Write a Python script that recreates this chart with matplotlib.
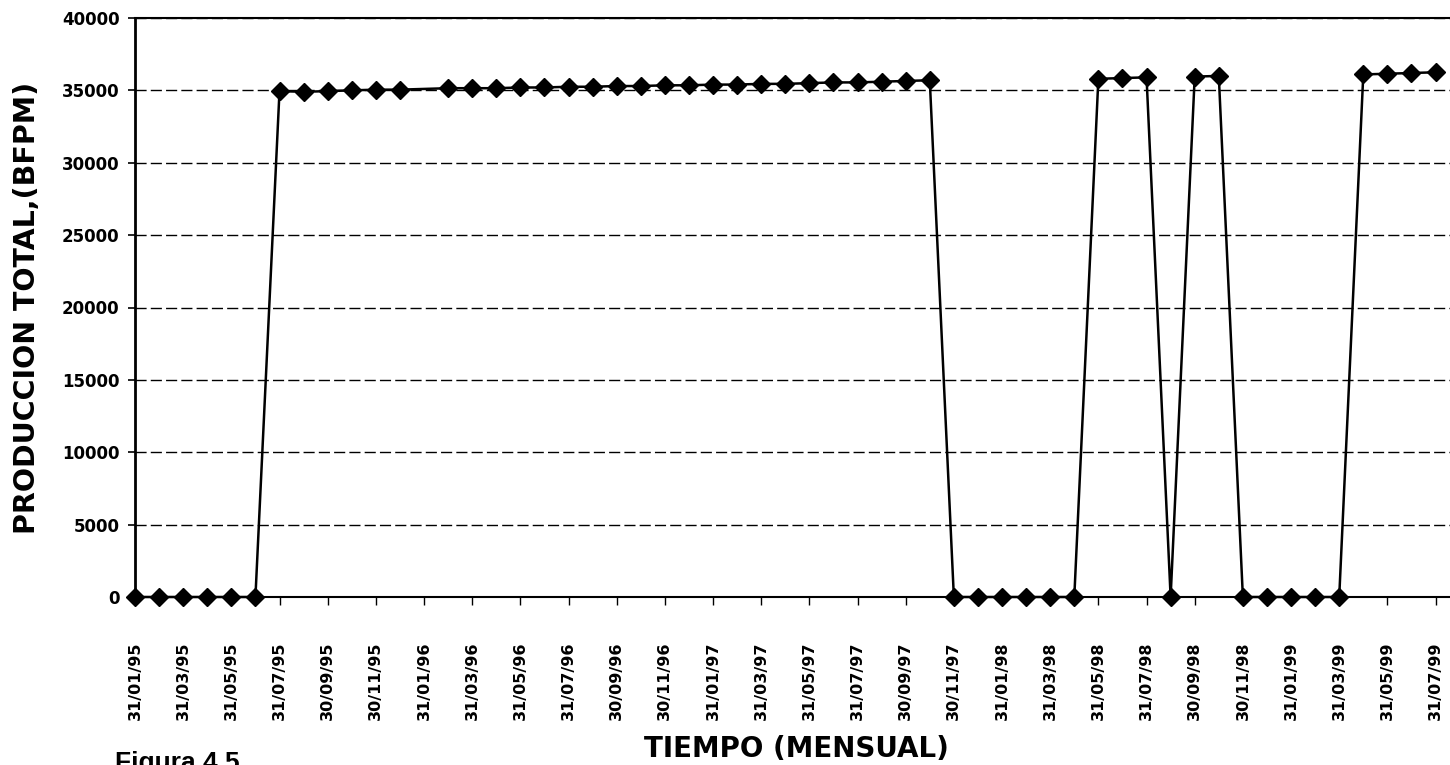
import numpy as np
import matplotlib.pyplot as plt

plt.rcParams['font.family'] = ['Liberation Sans', 'DejaVu Sans']

# monthly production, Jan 1995 .. Jul 1999 (BFPM)
produccion = [
    0, 0, 0, 0, 0, 0,
    34950, 34900, 34950, 35000, 35050, 35050, 35100, 35150, 35150, 35150,
    35200, 35200, 35250, 35250, 35300, 35300, 35350, 35350, 35400, 35400,
    35450, 35450, 35500, 35550, 35550, 35600, 35650, 35700,
    0, 0, 0, 0, 0, 0,
    35800, 35850, 35900,
    0,
    35950, 36000,
    0, 0, 0, 0, 0,
    36100, 36150, 36200, 36250,
]
# marker missing in the scanned original at Jan 1996
sin_marcador = [12]

fechas = ['31/01/95', '31/03/95', '31/05/95', '31/07/95', '30/09/95', '30/11/95',
          '31/01/96', '31/03/96', '31/05/96', '31/07/96', '30/09/96', '30/11/96',
          '31/01/97', '31/03/97', '31/05/97', '31/07/97', '30/09/97', '30/11/97',
          '31/01/98', '31/03/98', '31/05/98', '31/07/98', '30/09/98', '30/11/98',
          '31/01/99', '31/03/99', '31/05/99', '31/07/99']

y_ticks = [0, 5000, 10000, 15000, 20000, 25000, 30000, 35000, 40000]


def main():
    fig = plt.figure(figsize=(14.5, 7.65), dpi=100)
    ax = fig.add_axes([135 / 1450, 168 / 765, 1315 / 1450, 579 / 765])

    x = np.arange(len(produccion))
    marks = [i for i in x if i not in sin_marcador]
    ax.plot(x, produccion, '-', color='black', lw=1.8, marker='D', ms=9,
            markevery=marks, clip_on=False, zorder=3)

    ax.set_xlim(0, 54.6)
    ax.set_ylim(0, 40000)
    ax.set_yticks(y_ticks)
    ax.set_yticklabels([str(v) for v in y_ticks], fontsize=12, fontweight='bold',
                       family='DejaVu Sans')
    ax.set_xticks(np.arange(0, len(produccion), 2))
    ax.set_xticklabels(fechas, rotation=90, fontsize=11.5, fontweight='bold',
                       family='DejaVu Sans')
    ax.tick_params(axis='x', direction='out', length=6, pad=26, width=1)
    ax.tick_params(axis='y', direction='out', length=5, pad=6, width=1.2)

    ax.grid(axis='y', linestyle=(0, (8, 3)), color='black', lw=1)
    ax.spines['right'].set_visible(False)
    ax.spines['left'].set_linewidth(2)
    ax.spines['bottom'].set_linewidth(1.5)
    ax.spines['top'].set_linewidth(1.5)

    ax.set_ylabel('PRODUCCION TOTAL,(BFPM)', fontsize=20.5, fontweight='bold',
                  family='DejaVu Sans')
    ax.yaxis.set_label_coords(-0.0715, 0.5)
    ax.set_xlabel('TIEMPO (MENSUAL)', fontsize=20, fontweight='bold',
                  family='DejaVu Sans')
    ax.xaxis.set_label_coords(0.503, -0.238)
    fig.text(115 / 1450, 2 / 765, 'Figura 4.5', fontsize=19, fontweight='bold', va='center')

    fig.savefig('out.png', dpi=100)


if __name__ == "__main__":
    main()
